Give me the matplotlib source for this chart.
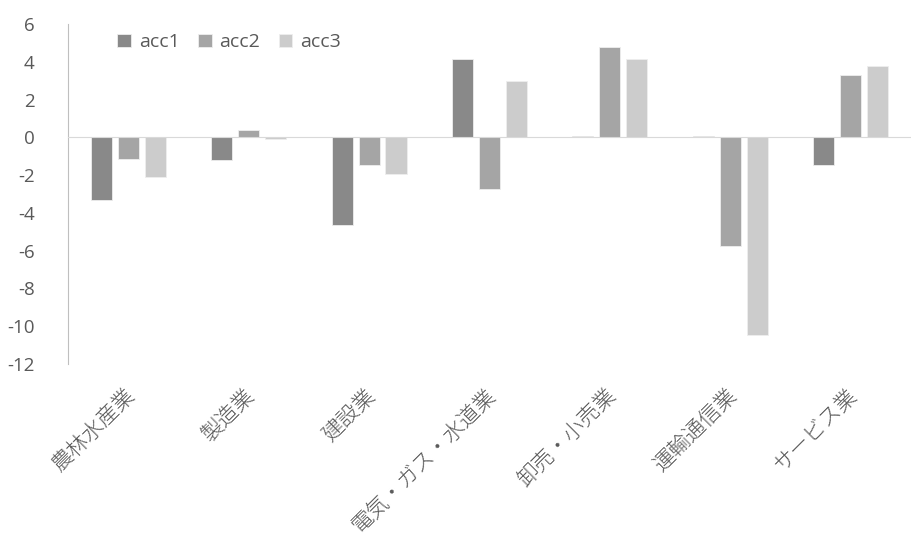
import numpy as np
import matplotlib.pyplot as plt

plt.rcParams['font.family'] = ['Open Sans', 'Noto Sans CJK JP', 'DejaVu Sans']

categories = ['農林水産業', '製造業', '建設業', '電気・ガス・水道業', '卸売・小売業', '運輸通信業', 'サービス業']
acc1 = [-3.29, -1.2, -4.64, 4.15, 0.05, 0.05, -1.44]
acc2 = [-1.13, 0.39, -1.44, -2.72, 4.81, -5.74, 3.31]
acc3 = [-2.12, -0.1, -1.93, 2.98, 4.15, -10.44, 3.8]

series = [('acc1', acc1, '#898989'), ('acc2', acc2, '#a5a5a5'), ('acc3', acc3, '#cccccc')]

fig = plt.figure(figsize=(9.11, 5.49), dpi=100)
ax = fig.add_axes([0.0746, 0.337, 0.9254, 0.619])

x = np.arange(len(categories))
width = 0.175
step = 0.224
for i, (name, vals, color) in enumerate(series):
    ax.bar(x + (i - 1) * step, vals, width, color=color, label=name,
           edgecolor='#eeeeee', linewidth=0.6)

ax.set_xlim(-0.5, len(categories) - 0.5)
ax.set_ylim(-12, 6)
ax.set_yticks(range(-12, 7, 2))
ax.set_yticklabels([str(v) for v in range(-12, 7, 2)])

ax.spines['top'].set_visible(False)
ax.spines['right'].set_visible(False)
ax.spines['bottom'].set_position(('data', 0))
ax.spines['bottom'].set_color('#d9d9d9')
ax.spines['left'].set_color('#bfbfbf')
ax.tick_params(axis='y', length=0, pad=24, labelsize=13.5, labelcolor='#595959')
ax.tick_params(axis='x', length=0)

ax.set_xticks(x)
ax.set_xticklabels([])
for xi, lab in zip(x, categories):
    ax.text(xi - 0.04, -13.1, lab, rotation=45, ha='right', va='top',
            rotation_mode='anchor', fontsize=15.5, color='#595959',
            fontweight='light', family=['Noto Sans CJK JP', 'DejaVu Sans'])

ax.legend(loc='upper left', bbox_to_anchor=(0.038, 1.025), ncol=3, frameon=False,
          fontsize=14, labelcolor='#595959', handlelength=0.7, handleheight=0.7,
          handletextpad=0.4, columnspacing=0.95)

fig.savefig('out.png', dpi=100)
